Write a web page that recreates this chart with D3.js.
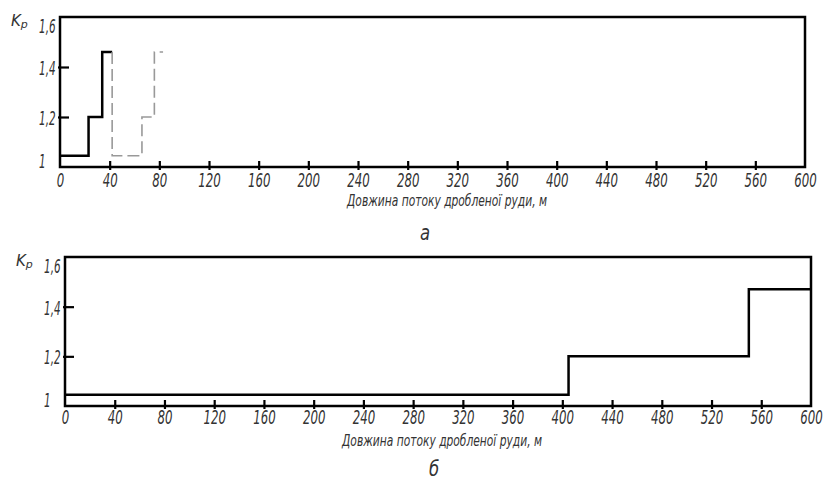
<!DOCTYPE html>
<html>
<head>
<meta charset="utf-8">
<script src="https://cdn.jsdelivr.net/npm/d3@7"></script>
<style>
  body { margin: 0; background: #fff; }
  svg text { font-family: "DejaVu Sans", sans-serif; font-style: italic; fill: #333; }
</style>
</head>
<body>
<svg id="chart" width="824" height="482"></svg>
<script>
// x ticks (м) and y ticks (Kр)
const xTicks = [0, 40, 80, 120, 160, 200, 240, 280, 320, 360, 400, 440, 480, 520, 560, 600];
const yTicks = [1, 1.2, 1.4, 1.6];

// panel а: solid steps, dashed repeat
const aSolidDist = [0, 23, 34, 42];
const aSolidKp = [1.045, 1.045, 1.2, 1.46];
const aDashDist = [42, 66, 76, 83];
const aDashKp = [1.46, 1.045, 1.2, 1.46];

// panel б
const bDist = [0, 0, 405, 550, 600];
const bKp = [1.045, 1.045, 1.045, 1.2, 1.47];

const xTitle = 'Довжина потоку дробленої руди, м';

const svg = d3.select('#chart');

function fmt(v) {
  return v === 1 ? '1' : String(v).replace('.', ',');
}

// narrow lettering like the drawing font (x is given in unscaled px)
function squeeze(sel, k, x0) {
  sel.attr('transform', `scale(${k},1)`).attr('x', x0 / k);
}

function panel(box, series, letter) {
  const x = d3.scaleLinear().domain([0, 600]).range([box.left, box.right]);
  const y = d3.scaleLinear().domain([1, 1.6]).range([box.bottom, box.top]);
  const g = svg.append('g');

  // x ticks
  const xAxis = d3.axisBottom(x).tickValues(xTicks).tickSizeOuter(0).tickFormat(d => d);
  const gx = g.append('g').attr('transform', `translate(0,${box.bottom})`).call(xAxis);
  gx.select('.domain').remove();
  gx.selectAll('.tick line')
    .attr('y1', -6).attr('y2', 3)
    .attr('stroke', '#000').attr('stroke-width', 2.2)
    .attr('display', d => (d === 0 || d === 600) ? 'none' : null);
  gx.selectAll('.tick text')
    .attr('y', box.labelOff).attr('dy', 0)
    .attr('font-size', 19).attr('fill', '#333')
    .call(squeeze, 0.62, 0);

  // y labels + ticks
  const yAxis = d3.axisLeft(y).tickValues(yTicks).tickSizeOuter(0).tickFormat(fmt);
  const gy = g.append('g').attr('transform', `translate(${box.left},0)`).call(yAxis);
  gy.select('.domain').remove();
  gy.selectAll('.tick line')
    .attr('x1', -2).attr('x2', 9)
    .attr('stroke', '#000').attr('stroke-width', 2.2)
    .attr('display', d => (d === 1 || d === 1.6) ? 'none' : null);
  gy.selectAll('.tick text')
    .attr('text-anchor', 'start')
    .attr('dy', d => d === 1.6 ? '0.8em' : d === 1 ? '0' : '0.4em')
    .attr('font-size', 19).attr('fill', '#555')
    .call(squeeze, 0.55, -21);

  // frame
  g.append('rect')
    .attr('x', box.left).attr('y', box.top)
    .attr('width', box.right - box.left).attr('height', box.bottom - box.top)
    .attr('fill', 'none').attr('stroke', '#000').attr('stroke-width', 2.5);

  const line = d3.line().x(d => x(d[0])).y(d => y(d[1])).curve(d3.curveStepBefore);
  series.forEach(s => {
    g.append('path')
      .datum(d3.zip(s.dist, s.kp))
      .attr('d', line)
      .attr('fill', 'none')
      .attr('stroke', s.color)
      .attr('stroke-width', s.width)
      .attr('stroke-dasharray', s.dash || null);
  });

  // Kр
  const k = g.append('text')
    .attr('x', box.left - 49).attr('y', box.top + 9)
    .attr('font-size', 15).attr('fill', '#777');
  k.append('tspan').text('K');
  k.append('tspan').attr('font-size', 11).attr('dy', 2).text('р');

  g.append('text')
    .attr('x', box.titleX).attr('y', box.titleY)
    .attr('text-anchor', 'middle').attr('font-size', 15)
    .attr('textLength', 200).attr('lengthAdjust', 'spacingAndGlyphs')
    .text(xTitle);

  g.append('text')
    .attr('y', box.letterY)
    .attr('text-anchor', 'middle').attr('font-size', 22)
    .text(letter)
    .call(squeeze, 0.75, box.letterX);
}

panel({left: 60, right: 805, top: 17, bottom: 167, labelOff: 20, titleX: 447, titleY: 206, letterX: 425, letterY: 240},
  [
    {dist: aSolidDist, kp: aSolidKp, color: '#000', width: 2.5},
    {dist: aDashDist, kp: aDashKp, color: '#999', width: 1.6, dash: '12,5'}
  ], 'а');

panel({left: 65, right: 811, top: 257, bottom: 406, labelOff: 18, titleX: 442, titleY: 446, letterX: 434, letterY: 476},
  [
    {dist: bDist, kp: bKp, color: '#000', width: 2.5}
  ], 'б');
</script>
</body>
</html>
